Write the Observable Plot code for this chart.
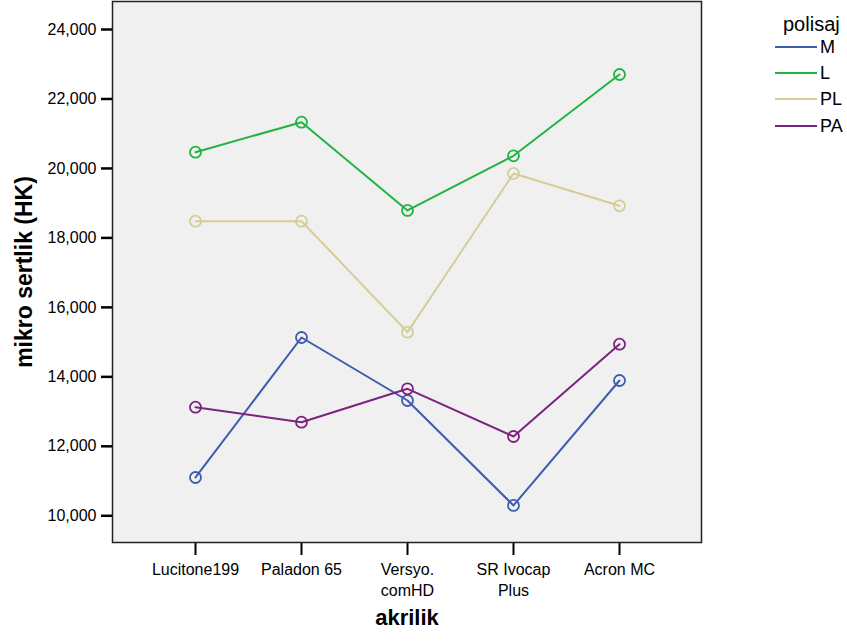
<!DOCTYPE html>
<html>
<head>
<meta charset="utf-8">
<script src="https://cdn.jsdelivr.net/npm/d3@7"></script>
<script src="https://cdn.jsdelivr.net/npm/@observablehq/plot@0.6"></script>
<style>
  body { margin: 0; background: #fff; font-family: "Liberation Sans", Arial, sans-serif; }
  #wrap { position: relative; width: 847px; height: 643px; }
  #wrap svg { position: absolute; left: 0; top: 0; }
  .lg-title { position: absolute; left: 783px; top: 12px; font-size: 20px; line-height: 24px; white-space: nowrap; color: #000; }
  .lg-sw { position: absolute; left: 775px; width: 42px; height: 0; border-top: 2px solid; }
  .lg-lab { position: absolute; left: 820px; height: 20px; line-height: 20px; font-size: 18px; white-space: nowrap; color: #000; }
</style>
</head>
<body>
<div id="wrap"></div>
<script>
const categories = ["Lucitone199", "Paladon 65", "Versyo. comHD", "SR Ivocap Plus", "Acron MC"];
const categoryLabels = ["Lucitone199", "Paladon 65", "Versyo.\ncomHD", "SR Ivocap\nPlus", "Acron MC"];
const seriesNames = ["M", "L", "PL", "PA"];
const seriesColors = ["#3f5bad", "#23b340", "#d4cd95", "#7b237f"];
const mValues = [11103, 15133, 13319, 10297, 13895];
const lValues = [20468, 21332, 18790, 20364, 22705];
const plValues = [18482, 18482, 15286, 19855, 18925];
const paValues = [13127, 12695, 13656, 12283, 14940];
const yTicks = [10000, 12000, 14000, 16000, 18000, 20000, 22000, 24000];

const seriesValues = [mValues, lValues, plValues, paValues];
const data = [];
seriesNames.forEach((s, i) => {
  categories.forEach((c, j) => data.push({series: s, cat: c, value: seriesValues[i][j]}));
});
const labelOf = new Map(categories.map((c, i) => [c, categoryLabels[i]]));

const chart = Plot.plot({
  width: 847,
  height: 643,
  marginLeft: 112,
  marginRight: 146,
  marginTop: 1,
  marginBottom: 101,
  style: {fontFamily: "'Liberation Sans', Arial, sans-serif", background: "transparent", color: "#000"},
  x: {type: "point", domain: categories, padding: 0.778},
  y: {domain: [9231, 24806]},
  color: {domain: seriesNames, range: seriesColors},
  marks: [
    Plot.frame({fill: "#f0f0f0", stroke: null}),
    Plot.axisY({ticks: yTicks, tickSize: 11, tickPadding: 5, tickFormat: d3.format(","), label: null, fontSize: 16, strokeWidth: 2.5}),
    Plot.axisX({tickSize: 13, tickPadding: 5, tickFormat: d => labelOf.get(d), label: null, fontSize: 16, lineHeight: 1.3, strokeWidth: 2}),
    Plot.line(data, {x: "cat", y: "value", z: "series", stroke: "series", strokeWidth: 2}),
    Plot.dot(data, {x: "cat", y: "value", stroke: "series", r: 5.5, strokeWidth: 1.8, fill: "none"}),
    Plot.frame({stroke: "#222", strokeWidth: 1.5}),
    Plot.text(["akrilik"], {frameAnchor: "bottom", dy: 82, fontWeight: "bold", fontSize: 22, fill: "#000"}),
    Plot.text(["mikro sertlik (HK)"], {frameAnchor: "left", dx: -88, rotate: -90, textAnchor: "middle", fontWeight: "bold", fontSize: 23, fill: "#000"})
  ]
});
const wrap = document.getElementById("wrap");
wrap.appendChild(chart);

let html = '<div class="lg-title">polisaj</div>';
const lineYs = [47, 73, 99, 126];
seriesNames.forEach((s, i) => {
  html += `<div class="lg-sw" style="top:${lineYs[i] - 1}px;border-color:${seriesColors[i]}"></div>`;
  html += `<div class="lg-lab" style="top:${lineYs[i] - 10}px">${s}</div>`;
});
const lg = document.createElement("div");
lg.innerHTML = html;
wrap.appendChild(lg);
</script>
</body>
</html>
